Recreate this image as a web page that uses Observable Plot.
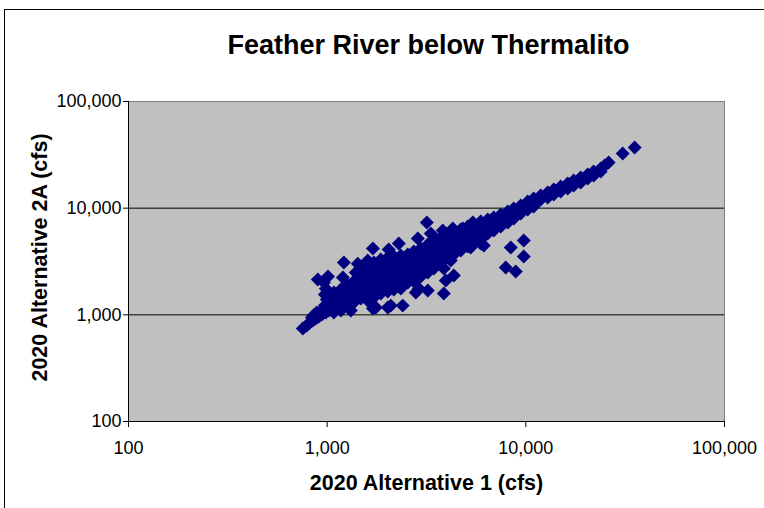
<!DOCTYPE html>
<html>
<head>
<meta charset="utf-8">
<script src="https://cdn.jsdelivr.net/npm/d3@7"></script>
<script src="https://cdn.jsdelivr.net/npm/@observablehq/plot@0.6"></script>
<style>
  html, body { margin: 0; padding: 0; background: #fff; overflow: hidden; }
  #outline { position: absolute; left: 4px; top: 9px; width: 820px; height: 560px;
             border-left: 1px solid #000; border-top: 1px solid #000; }
  #chart { position: absolute; left: 0; top: 0; }
</style>
</head>
<body>
<div id="outline"></div>
<div id="chart"></div>
<script>
// Daily flows, Feather River below Thermalito: [2020 Alternative 1, 2020 Alternative 2A] in cfs
const lowFlows = [
  [754, 744], [790, 794], [818, 847], [847, 884], [877, 923], [909, 964], [941, 1006],
  [985, 1051], [1020, 1097], [887, 1051], [838, 943], [857, 990], [930, 1080], [960, 1120],
  [897, 2140], [963, 2010], [985, 1760], [974, 1550], [996, 1390], [974, 1220], [1010, 2290]
];

const scatteredFlows = [
  [1214, 3090], [1200, 2240], [1394, 2490], [1426, 3020], [1600, 3230], [1700, 4180],
  [2040, 4090], [2295, 4660], [2860, 5190], [3175, 7330], [3324, 5780], [3820, 6170],
  [4290, 6440], [4815, 6440], [5405, 7330], [5280, 4270], [6140, 4460], [4340, 2335],
  [3955, 2100], [3865, 1585], [3210, 1690], [2794, 1620], [2400, 1220], [2090, 1220],
  [1700, 1145], [1316, 1097], [1080, 1051], [1758, 1170], [2020, 1170], [2893, 1763],
  [2700, 2096], [4190, 3230], [3865, 2715], [5930, 4660],
  [8395, 4270], [9760, 4970], [9760, 3520], [7925, 2775], [8900, 2545]
];

const midFlows = [
  [1081, 1618], [1081, 1391], [1081, 1196],
  [1172, 1726], [1172, 1485], [1172, 1276], [1172, 1097],
  [1271, 1882], [1271, 1618], [1271, 1391], [1271, 1196],
  [1362, 2051], [1362, 1763], [1362, 1517], [1362, 1303],
  [1477, 2601], [1477, 2236], [1477, 1923], [1477, 1653], [1477, 1421],
  [1601, 2835], [1601, 2438], [1601, 2096], [1601, 1803], [1601, 1550], [1601, 1361],
  [1718, 3092], [1718, 2658], [1718, 2285], [1718, 1965], [1718, 1689], [1718, 1453],
  [1862, 3298], [1862, 2835], [1862, 2438], [1862, 2096], [1862, 1803], [1862, 1584],
  [2020, 3444], [2020, 2960], [2020, 2546], [2020, 2188], [2020, 1882], [2020, 1653],
  [2166, 3519], [2166, 3025], [2166, 2601], [2166, 2236], [2166, 1923], [2166, 1726],
  [2348, 3596], [2348, 3092], [2348, 2658], [2348, 2285], [2348, 1965], [2348, 1763],
  [2546, 3674], [2546, 3159], [2546, 2715], [2546, 2335], [2546, 2008],
  [2730, 3920], [2730, 3370], [2730, 2897], [2730, 2491], [2730, 2142],
  [2960, 4181], [2960, 3596], [2960, 3092], [2960, 2658], [2960, 2285],
  [3210, 4559], [3210, 3920], [3210, 3370], [3210, 2897], [3210, 2491],
  [3443, 4970], [3443, 4274], [3443, 3674], [3443, 3159], [3443, 2715],
  [3732, 5302], [3732, 4559], [3732, 3920], [3732, 3370], [3732, 3025],
  [4047, 5536], [4047, 4760], [4047, 4092], [4047, 3519],
  [4340, 5780], [4340, 4970], [4340, 4274], [4340, 3674],
  [4705, 6303], [4705, 5418], [4705, 4658], [4705, 4005],
  [5102, 6722], [5102, 5780], [5102, 4970], [5102, 4367],
  [5471, 7173], [5471, 6168], [5471, 5302], [5471, 4760],
  [5932, 7490], [5932, 6439], [5932, 5536], [5932, 5078],
  [6432, 7820], [6432, 6722], [6432, 5780],
  [6897, 8163], [6897, 7173], [6897, 6168],
  [7479, 8709], [7479, 7653], [7479, 6722],
  [8110, 9292], [8110, 8341], [8110, 7330],
  [8693, 9914], [8693, 8899], [8693, 7991]
];

const highFlows = [
  [9426, 10580], [9426, 9702], [9426, 8899],
  [10220, 11530], [10220, 10580], [10220, 9702],
  [10950, 12300], [10950, 11280], [10950, 10350],
  [11880, 13130], [11880, 12040],
  [12880, 14000], [12880, 12580],
  [13820, 14940], [13820, 13420],
  [14980, 15940], [14980, 14310],
  [16240, 17010], [16240, 15260],
  [17410, 18150], [17410, 16290],
  [18880, 19360], [18880, 17380],
  [20480, 20650], [20480, 18950],
  [21960, 22030], [21960, 20210],
  [23810, 23500], [23810, 22030],
  [24940, 25080], [26100, 26750], [30720, 32490], [35300, 36980]
];

const axisTicks = [100, 1000, 10000, 100000];
const gridLines = [1000, 10000];
const chartTitle = "Feather River below Thermalito";
const xTitle = "2020 Alternative 1 (cfs)";
const yTitle = "2020 Alternative 2A (cfs)";

const flows = [...lowFlows, ...scatteredFlows, ...midFlows, ...highFlows]
  .map(([alt1, alt2A]) => ({alt1, alt2A}));

const fmt = d3.format(",");

const chart = Plot.plot({
  width: 764,
  height: 508,
  marginLeft: 128,
  marginRight: 40,
  marginTop: 101,
  marginBottom: 87,
  style: {fontFamily: "'Liberation Sans', Arial, sans-serif", background: "transparent", color: "#000"},
  x: {type: "log", domain: [100, 100000]},
  y: {type: "log", domain: [100, 100000]},
  marks: [
    Plot.frame({fill: "#c0c0c0", stroke: "#808080"}),
    Plot.ruleY(gridLines, {stroke: "#000"}),
    Plot.dot(flows, {x: "alt1", y: "alt2A", symbol: "diamond2", r: 6.3, fill: "#000080"}),
    Plot.ruleX([100], {stroke: "#000"}),
    Plot.ruleY([100], {stroke: "#000"}),
    Plot.axisX({ticks: axisTicks, tickSize: 6, tickPadding: 14, fontSize: 18, tickFormat: fmt, label: null}),
    Plot.axisY({ticks: axisTicks, tickSize: 5, tickPadding: 2, fontSize: 18, tickFormat: fmt, label: null}),
    Plot.text([chartTitle], {frameAnchor: "top", lineAnchor: "middle", dy: -56, dx: 2, fontSize: 27, fontWeight: "bold"}),
    Plot.text([xTitle], {frameAnchor: "bottom", lineAnchor: "middle", dy: 62, fontSize: 21.5, fontWeight: "bold"}),
    Plot.text([yTitle], {frameAnchor: "left", textAnchor: "middle", lineAnchor: "middle", dx: -88, dy: -4, rotate: -90, fontSize: 21.5, fontWeight: "bold"})
  ]
});

document.getElementById("chart").appendChild(chart);
</script>
</body>
</html>
